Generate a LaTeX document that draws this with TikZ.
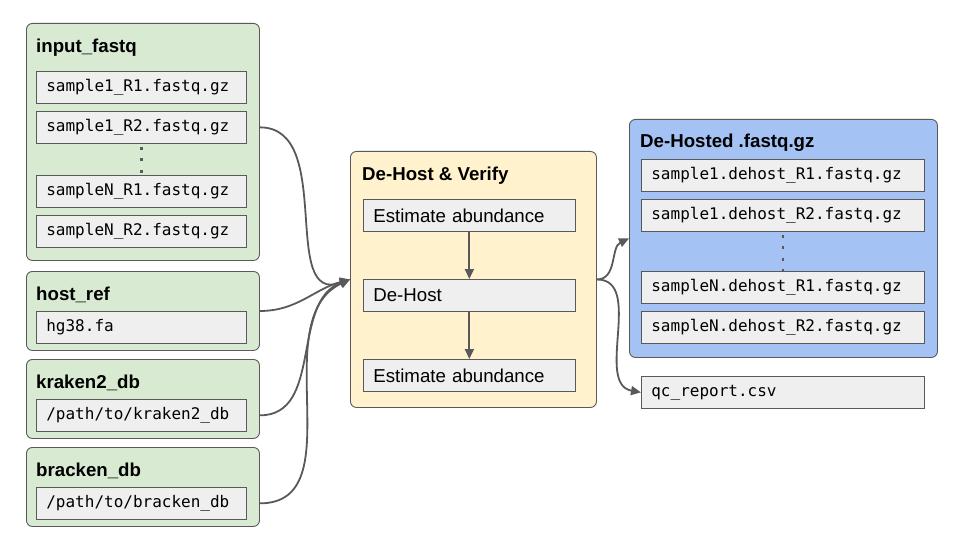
\documentclass[tikz,border=0pt]{standalone}
\usepackage{fontspec}
\setmainfont{Liberation Sans}
\newfontfamily\monofont{DejaVu Sans Mono}
\usetikzlibrary{positioning,arrows.meta}

\definecolor{grpgreen}{HTML}{D9EAD3}
\definecolor{grpyellow}{HTML}{FFF2CC}
\definecolor{grpblue}{HTML}{A4C2F4}
\definecolor{boxgray}{HTML}{EFEFEF}
\definecolor{linegray}{HTML}{595959}

\tikzset{
  grp/.style={draw=linegray, line width=0.9pt, rounded corners=6pt, anchor=north west, inner sep=0pt},
  grptitle/.style={anchor=base west, inner sep=0pt, font=\fontsize{18.67}{20}\selectfont\bfseries},
  file/.style={draw=linegray, fill=boxgray, line width=0.7pt, anchor=north west, minimum height=32pt,
    inner xsep=10pt, text width=#1, align=left, font=\fontsize{16}{18}\monofont},
  stepbox/.style={file=#1, font=\fontsize{18.67}{20}\selectfont},
  flow/.style={draw=linegray, line width=1.8pt, -{Triangle[length=10pt,width=9pt]}},
  more/.style={draw=linegray, line width=2.5pt, dash pattern=on 3pt off 8.5pt}
}

\begin{document}
\begin{tikzpicture}[x=1pt,y=-1pt]
  \useasboundingbox (0,0) rectangle (960,540);

  % Inputs
  \node[grp, fill=grpgreen, minimum width=233pt, minimum height=237pt] (fastq) at (26,23) {};
  \node[grptitle] (fastqT) at (36,53) {input\_fastq};
  \node[file=190pt] (s1r1) at (36,71) {sample1\_R1.fastq.gz};
  \node[file=190pt] (s1r2) at (36,111) {sample1\_R2.fastq.gz};
  \node[file=190pt] (snr1) at (36,175) {sampleN\_R1.fastq.gz};
  \node[file=190pt] (snr2) at (36,215) {sampleN\_R2.fastq.gz};
  \draw[more] (s1r2.south) ++(0,3) -- ([yshift=-1pt]snr1.north);

  \node[grp, fill=grpgreen, minimum width=233pt, minimum height=79pt] (host) at (26,271) {};
  \node[grptitle] (hostT) at (36,300) {host\_ref};
  \node[file=190pt] (hg) at (36,311) {hg38.fa};

  \node[grp, fill=grpgreen, minimum width=233pt, minimum height=79pt] (kraken) at (26,359) {};
  \node[grptitle] (krakenT) at (36,388) {kraken2\_db};
  \node[file=190pt] (kdb) at (36,399) {/path/to/kraken2\_db};

  \node[grp, fill=grpgreen, minimum width=233pt, minimum height=79pt] (bracken) at (26,447) {};
  \node[grptitle] (brackenT) at (36,476) {bracken\_db};
  \node[file=190pt] (bdb) at (36,487) {/path/to/bracken\_db};

  % Process
  \node[grp, fill=grpyellow, minimum width=246pt, minimum height=256pt] (proc) at (350,151) {};
  \node[grptitle] (procT) at (362,180) {De-Host \& Verify};
  \node[stepbox=192pt] (est1) at (363,199) {Estimate abundance};
  \node[stepbox=192pt] (dehost) at (363,279) {De-Host};
  \node[stepbox=192pt] (est2) at (363,359) {Estimate abundance};
  \draw[flow] (est1.south) -- (dehost.north);
  \draw[flow] (dehost.south) -- (est2.north);

  % Outputs
  \node[grp, fill=grpblue, minimum width=308pt, minimum height=238pt] (out) at (629,119) {};
  \node[grptitle] (outT) at (640,148) {De-Hosted .fastq.gz};
  \node[file=263pt] (o1r1) at (641,159) {sample1.dehost\_R1.fastq.gz};
  \node[file=263pt] (o1r2) at (641,199) {sample1.dehost\_R2.fastq.gz};
  \node[file=263pt] (onr1) at (641,271) {sampleN.dehost\_R1.fastq.gz};
  \node[file=263pt] (onr2) at (641,311) {sampleN.dehost\_R2.fastq.gz};
  \draw[more] (o1r2.south) ++(0,3) -- ([yshift=-1pt]onr1.north);
  \node[file=263pt] (qc) at (641,376) {qc\_report.csv};

  % Connectors
  \draw[flow] (fastq.east |- s1r2.east) ++(0,0) to[out=0,in=200,looseness=1.1] (proc.west);
  \draw[flow] (host.east |- hg.north) to[out=0,in=195] (proc.west);
  \draw[flow] (kraken.east |- kdb.center) to[out=0,in=200] (proc.west);
  \draw[flow] (bracken.east |- bdb.center) to[out=0,in=205] (proc.west);
  \draw[flow] (proc.east) to[out=0,in=205] (out.west);
  \draw[flow] (proc.east) to[out=0,in=170] (qc.west);
\end{tikzpicture}
\end{document}
